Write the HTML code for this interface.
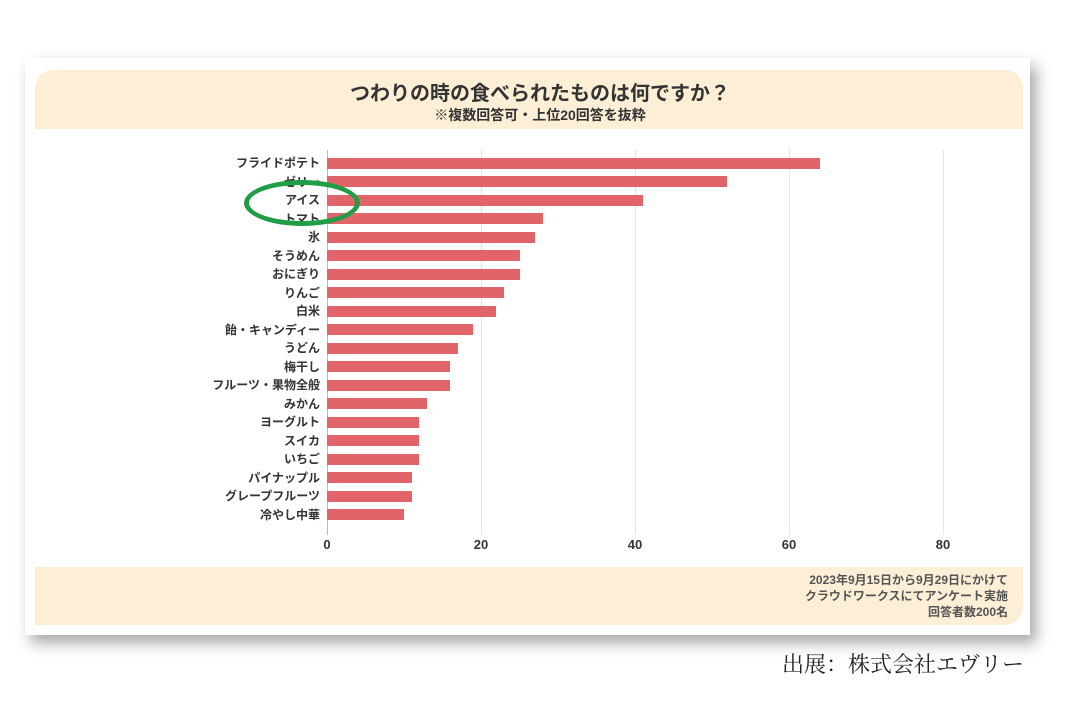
<!DOCTYPE html>
<html><head><meta charset="utf-8"><style>
body{margin:0;width:1080px;height:720px;background:#fff;position:relative;overflow:hidden;font-family:"Liberation Sans","Noto Sans CJK JP",sans-serif;}
.card{position:absolute;left:25px;top:58px;width:1005px;height:577px;background:#fff;box-shadow:6px 8px 14px rgba(0,0,0,0.35);}
.hdr{position:absolute;left:35px;top:70px;width:988px;height:59px;background:#fdeed6;border-radius:18px 18px 0 0;}
.ftr{position:absolute;left:35px;top:567px;width:988px;height:58px;background:#fdeed6;border-radius:0 0 18px 0;}
.t1{position:absolute;left:0;width:1080px;top:77px;text-align:center;font-size:20px;font-weight:bold;color:#333;}
.t2{position:absolute;left:0;width:1080px;top:105px;text-align:center;font-size:14px;font-weight:bold;color:#333;}
.g{position:absolute;top:150px;height:385px;width:1px;background:#e4e4e4;}
.bar{position:absolute;left:327px;height:11px;background:#e06468;}
.lb{position:absolute;right:760px;font-size:12px;font-weight:bold;color:#333;white-space:nowrap;line-height:14px;}
.tk{position:absolute;top:537px;font-size:13px;font-weight:bold;color:#333;width:40px;text-align:center;}
.fn{position:absolute;right:72px;top:572px;text-align:right;font-size:12px;font-weight:bold;color:#555;line-height:16px;}
.src{position:absolute;left:782px;top:648px;font-family:"Liberation Serif","Noto Serif CJK SC",serif;font-size:22px;color:#222;}
.ell{position:absolute;left:244px;top:180px;width:106px;height:36px;border:5px solid #1f9e45;border-radius:50%;}
</style></head><body>
<div class="card"></div>
<div class="hdr"></div>
<div class="ftr"></div>
<div class="t1">つわりの時の食べられたものは何ですか？</div>
<div class="t2">※複数回答可・上位20回答を抜粋</div>
<div class="g" style="left:327px;background:#bbb"></div>
<div class="g" style="left:481px"></div>
<div class="g" style="left:635px"></div>
<div class="g" style="left:789px"></div>
<div class="g" style="left:943px"></div>
<div id="bars"></div>
<div class="tk" style="left:307px">0</div>
<div class="tk" style="left:461px">20</div>
<div class="tk" style="left:615px">40</div>
<div class="tk" style="left:769px">60</div>
<div class="tk" style="left:923px">80</div>
<div class="fn">2023年9月15日から9月29日にかけて<br>クラウドワークスにてアンケート実施<br>回答者数200名</div>
<div class="src">出展：株式会社エヴリー</div>
<script>
var d=[["フライドポテト",64],["ゼリー",52],["アイス",41],["トマト",28],["氷",27],["そうめん",25],["おにぎり",25],["りんご",23],["白米",22],["飴・キャンディー",19],["うどん",17],["梅干し",16],["フルーツ・果物全般",16],["みかん",13],["ヨーグルト",12],["スイカ",12],["いちご",12],["パイナップル",11],["グレープフルーツ",11],["冷やし中華",10]];
var h="";d.forEach(function(r,i){var y=163+i*18.5;h+='<div class="bar" style="top:'+(y-5.5)+'px;width:'+(r[1]*7.7)+'px"></div><div class="lb" style="top:'+(y-7)+'px">'+r[0]+'</div>';});
document.getElementById("bars").innerHTML=h;
</script>
<div class="ell"></div>
</body></html>
